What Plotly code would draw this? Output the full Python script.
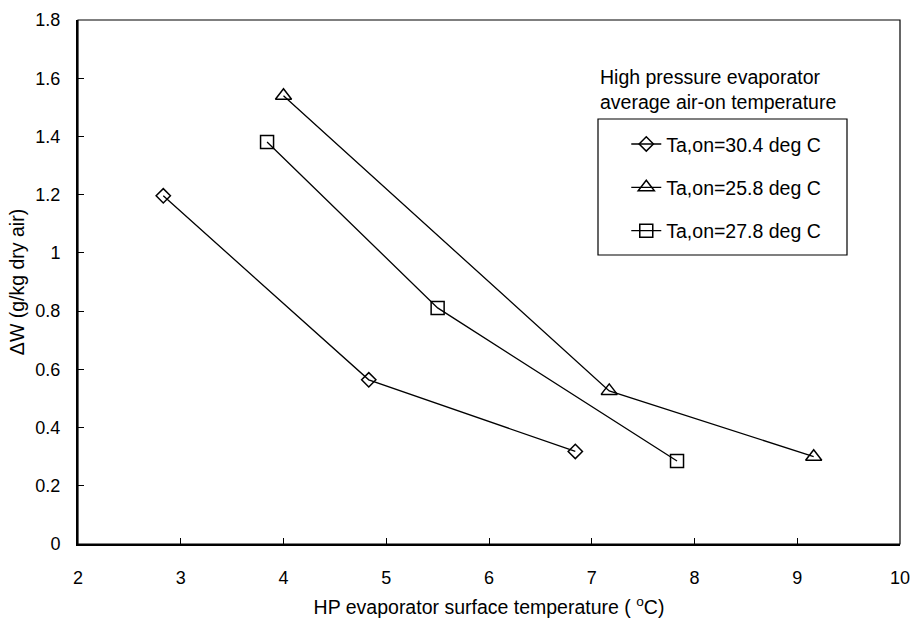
import plotly.graph_objects as go

# Data
x_304 = [2.83, 4.83, 6.84]
y_304 = [1.196, 0.564, 0.318]
x_258 = [4.0, 7.17, 9.16]
y_258 = [1.54, 0.526, 0.30]
x_278 = [3.84, 5.50, 7.83]
y_278 = [1.381, 0.811, 0.285]

names = ["Ta,on=30.4 deg C", "Ta,on=25.8 deg C", "Ta,on=27.8 deg C"]
symbols = ["diamond-open", "triangle-up-open", "square-open"]
sizes = [11, 14, 13]

FONT = "Liberation Sans, Arial, sans-serif"
fig = go.Figure()
for i, (xs, ys) in enumerate([(x_304, y_304), (x_258, y_258), (x_278, y_278)]):
    fig.add_trace(go.Scatter(
        x=xs, y=ys, mode="lines+markers", name=names[i], legendgroup=f"g{i}",
        line=dict(color="black", width=1.3),
        marker=dict(symbol=symbols[i], size=sizes[i], color="black",
                    line=dict(color="black", width=1.5)),
    ))

fig.update_layout(
    width=913, height=623,
    margin=dict(l=78, r=13, t=20, b=79),
    paper_bgcolor="white", plot_bgcolor="white",
    font=dict(family=FONT, size=18, color="black"),
    showlegend=True,
    legend=dict(x=0.667, y=0.80, xanchor="left", yanchor="top",
                bgcolor="rgba(0,0,0,0)", borderwidth=0,
                font=dict(size=19.5), tracegroupgap=15),
    shapes=[
        dict(type="rect", xref="paper", yref="paper", x0=0, x1=1, y0=0, y1=1,
             line=dict(color="black", width=1.2), layer="above"),
        dict(type="rect", xref="paper", yref="paper",
             x0=(598 - 78) / 822, x1=(847 - 78) / 822,
             y0=(544 - 255) / 524, y1=(544 - 119) / 524,
             line=dict(color="black", width=1.2)),
    ],
    annotations=[
        dict(text="High pressure evaporator<br>average air-on temperature",
             xref="paper", yref="paper", x=(598 - 78) / 822, y=(544 - 64) / 524,
             xanchor="left", yanchor="top", align="left", showarrow=False,
             font=dict(size=19.5)),
    ],
)
fig.update_xaxes(
    range=[2, 10], dtick=1, tick0=2, showgrid=False, zeroline=False,
    automargin=False,
    showline=True, linecolor="black", linewidth=2,
    ticks="inside", ticklen=6, tickcolor="black", tickwidth=1,
    ticklabelstandoff=16,
    title=dict(text="HP evaporator surface temperature ( <sup>o</sup>C)", standoff=14,
               font=dict(size=19.5)),
)
fig.update_yaxes(
    range=[0, 1.8], dtick=0.2, tick0=0, showgrid=False, zeroline=False,
    automargin=False,
    showline=True, linecolor="black", linewidth=2,
    ticks="inside", ticklen=6, tickcolor="black", tickwidth=1,
    ticklabelstandoff=12,
    title=dict(text="ΔW (g/kg dry air)", standoff=6, font=dict(size=19.5)),
)

fig.write_html("out.html")
